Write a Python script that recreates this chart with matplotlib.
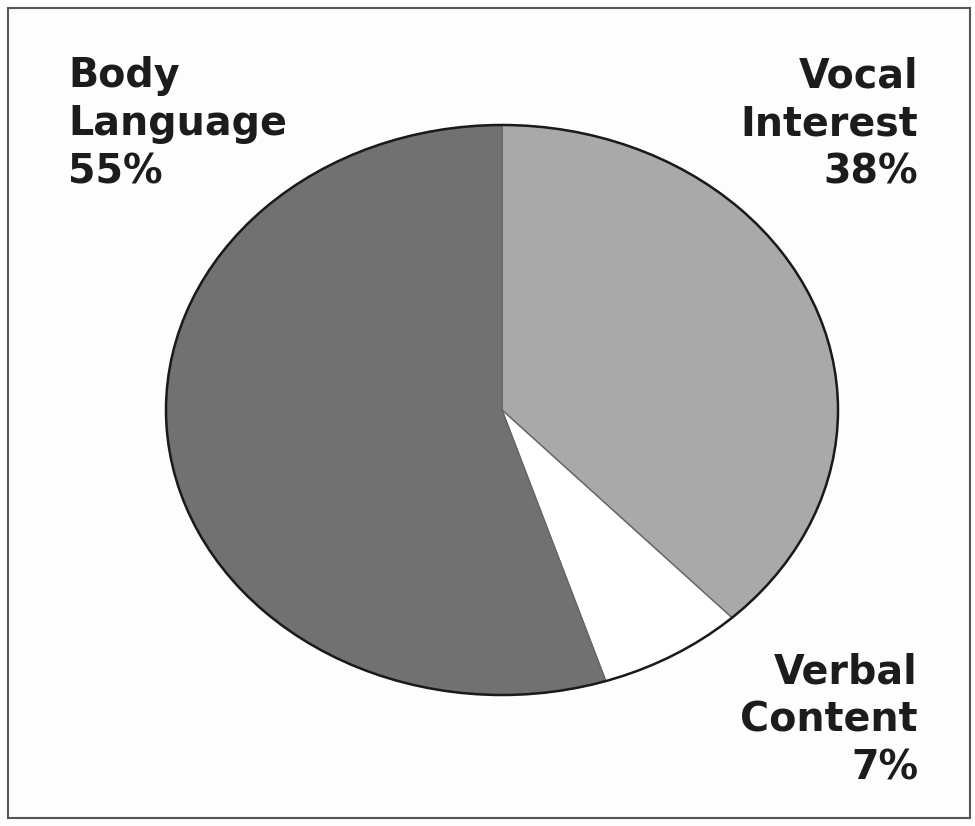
import matplotlib.pyplot as plt
from matplotlib.patches import Rectangle, Circle

labels = ['Vocal\nInterest\n38%', 'Verbal\nContent\n7%', 'Body\nLanguage\n55%']
shares = [38, 7, 55]
colors = ['#a9a9a9', '#ffffff', '#717171']

fig = plt.figure(figsize=(9.75, 8.26), dpi=100)
fig.patch.set_facecolor('#fdfdfd')

# pie is stretched horizontally in the original, so use a non-square axes
ax = fig.add_axes([166 / 975, 131 / 826, 672 / 975, 570 / 826])
wedges, _ = ax.pie(shares, colors=colors, startangle=90, counterclock=False,
                   wedgeprops=dict(edgecolor='#666666', linewidth=1.0))
for w in wedges:
    w.set_clip_on(False)
rim = Circle((0, 0), 1, fill=False, edgecolor='#1a1a1a', linewidth=1.8, clip_on=False)
ax.add_patch(rim)
ax.set_aspect('auto')
ax.set_xlim(-1, 1)
ax.set_ylim(-1, 1)
ax.axis('off')

font = dict(family='DejaVu Sans', fontweight='bold', fontsize=28.5,
            color='#1c1c1c', linespacing=1.27)
fig.text(68 / 975, 1 - 56 / 826, labels[2], ha='left', va='top', **font)
fig.text(918 / 975, 1 - 56 / 826, labels[0], ha='right', va='top',
         multialignment='right', **font)
fig.text(918 / 975, 1 - 652 / 826, labels[1], ha='right', va='top',
         multialignment='right', **font)

fig.patches.append(Rectangle((8 / 975, 8 / 826), 962 / 975, 810 / 826,
                             transform=fig.transFigure, fill=False,
                             edgecolor='#555555', linewidth=1.5))

fig.savefig('out.png', dpi=100, facecolor=fig.get_facecolor())
